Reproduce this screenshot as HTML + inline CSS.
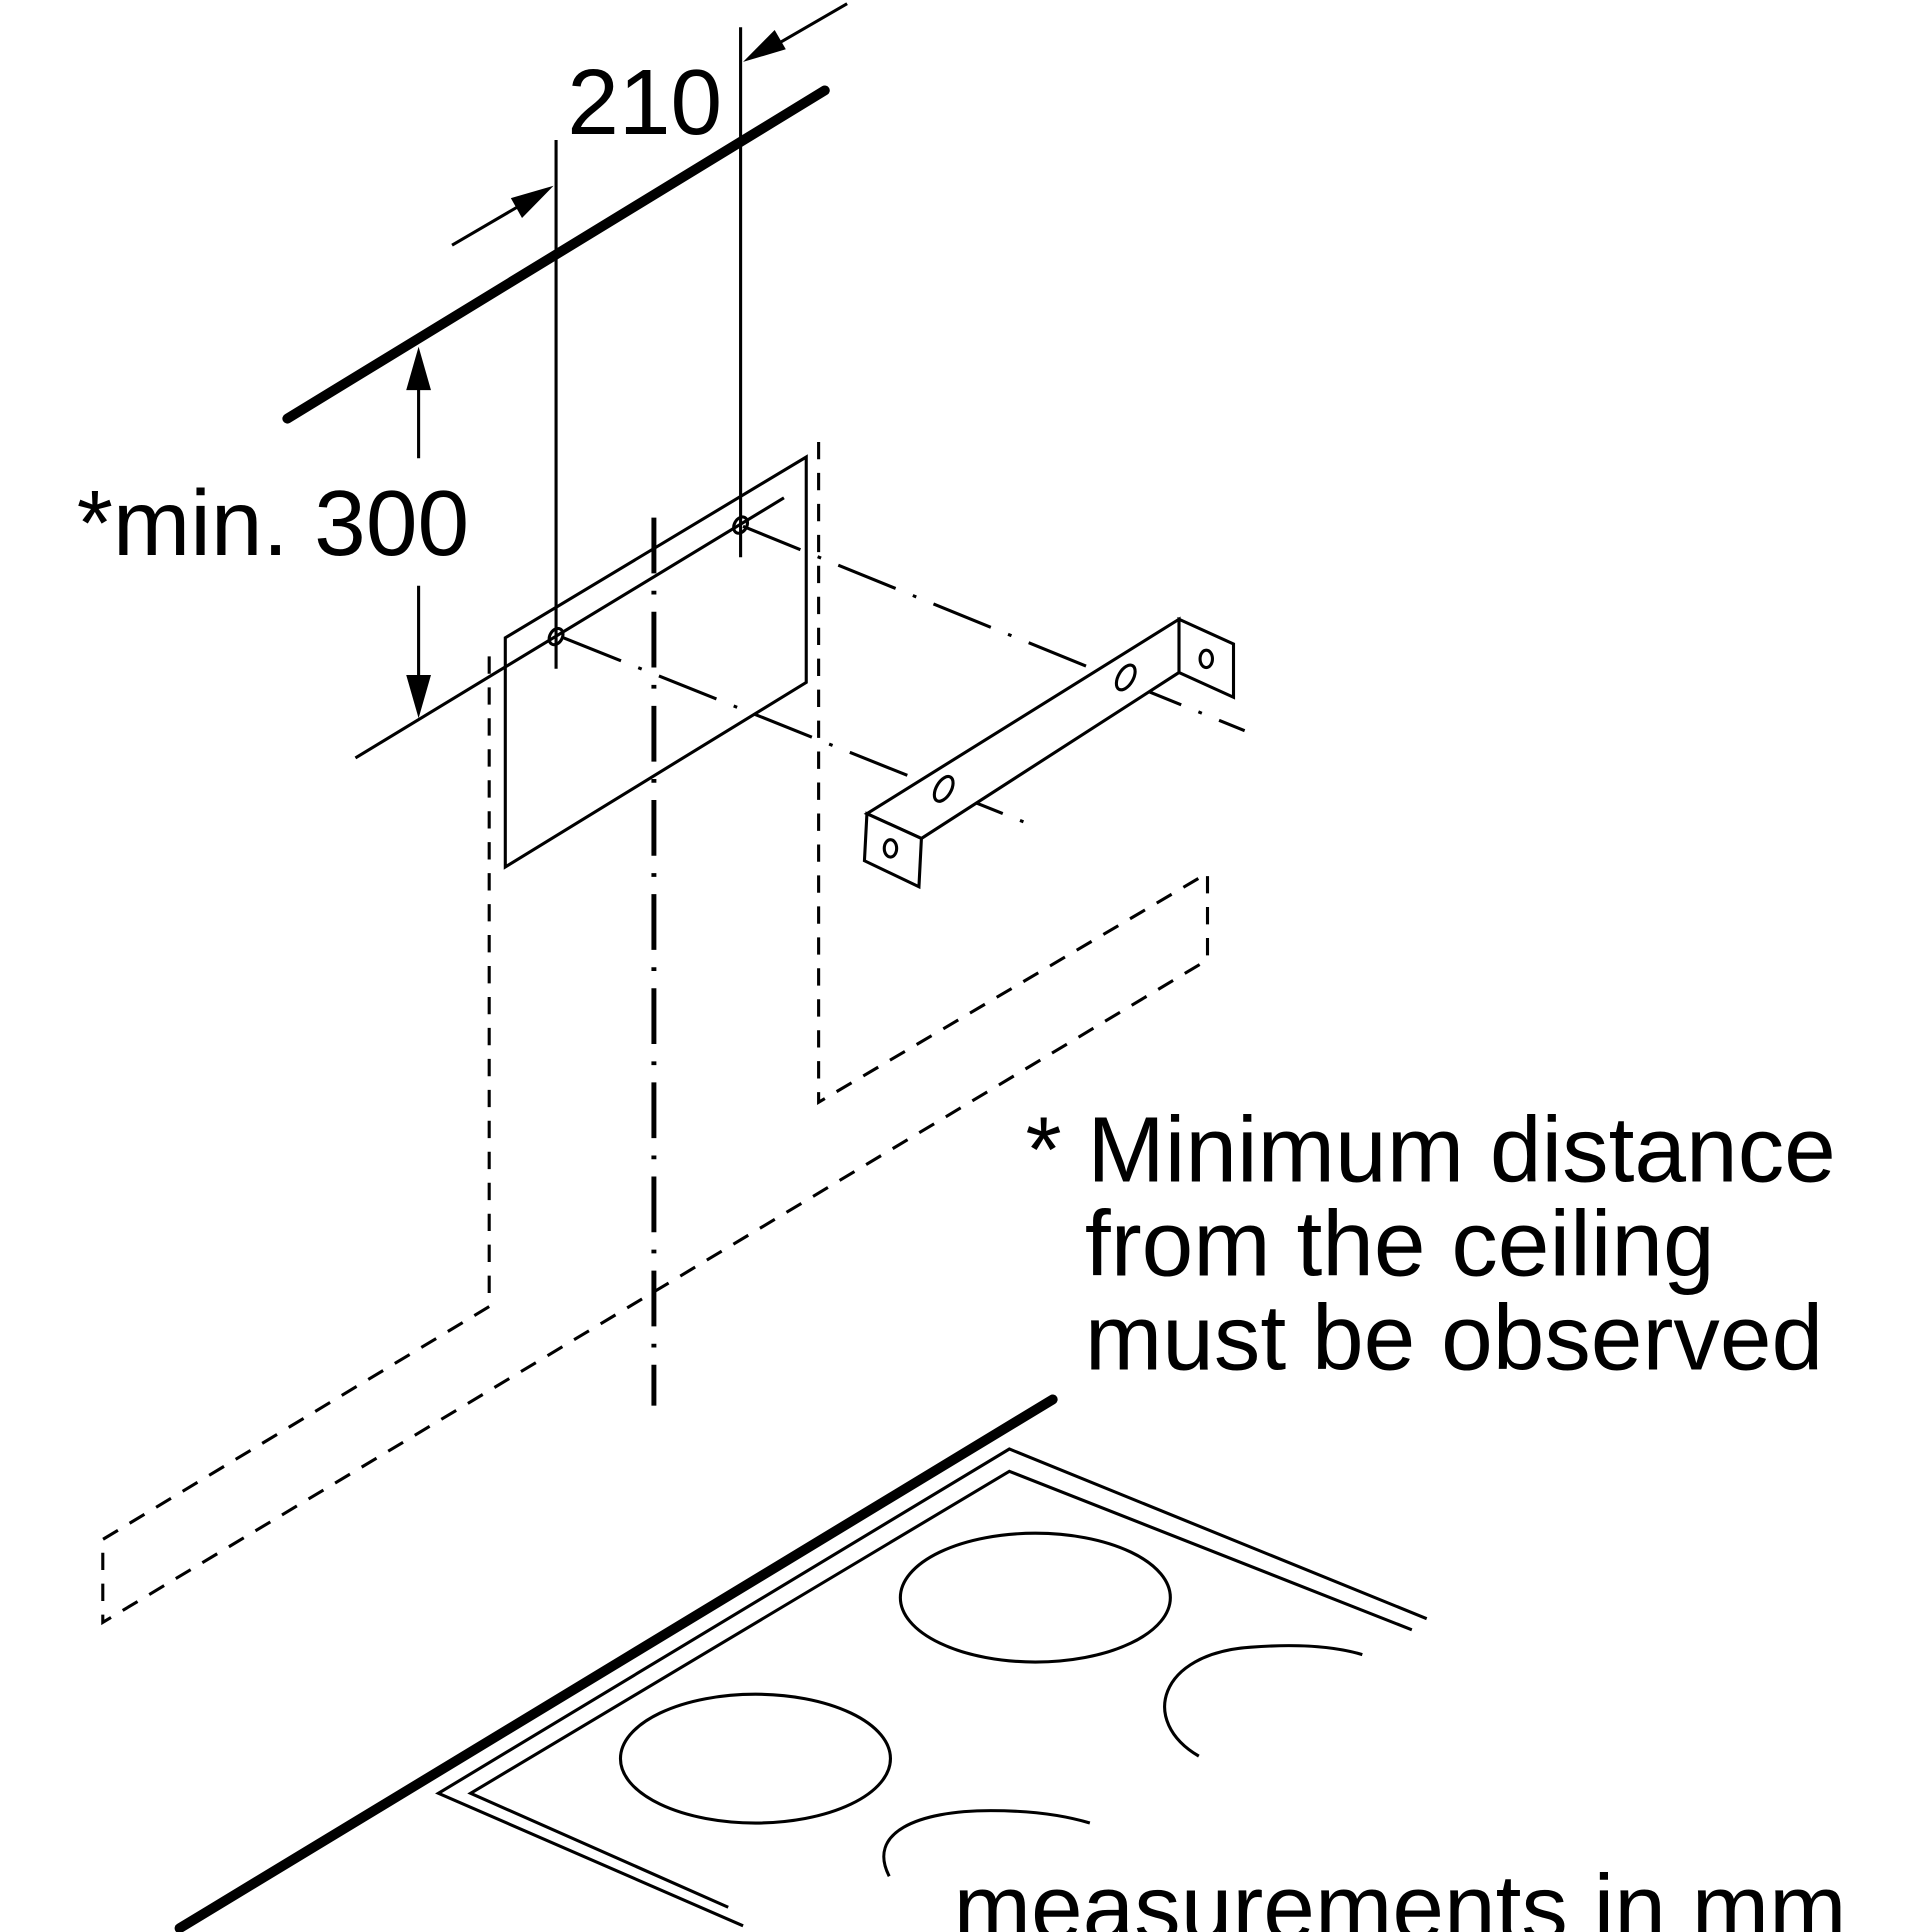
<!DOCTYPE html>
<html><head><style>html,body{margin:0;padding:0;background:#fff}svg{display:block}</style></head><body>
<svg width="1932" height="1932" viewBox="0 0 1560 1560" xmlns="http://www.w3.org/2000/svg" font-family="Liberation Sans, sans-serif">
<g stroke="#000" fill="none" stroke-width="2.5">
<line x1="232" y1="338" x2="666" y2="73" stroke-width="8" stroke-linecap="round"/>
<line x1="449" y1="113" x2="449" y2="540"/>
<line x1="598" y1="22" x2="598" y2="450"/>
<line x1="684" y1="3" x2="620" y2="40"/>
<line x1="365" y1="198" x2="430" y2="160"/>
<line x1="338" y1="295" x2="338" y2="370"/>
<line x1="338" y1="473" x2="338" y2="565"/>
<line x1="287" y1="612" x2="633" y2="402"/>
<polygon points="408,515 651,369 651,551 408,700"/>
<g stroke-dasharray="14,11">
<polyline points="395,530 395,1055 83,1243 83,1310 975,775 975,705 661,890 661,352"/>
</g>
<line x1="528" y1="418" x2="528" y2="1135" stroke-width="4" stroke-dasharray="45,14,3,14"/>
<line x1="455" y1="515" x2="830" y2="665" stroke-dasharray="50,15,3,15"/>
<line x1="600" y1="425" x2="1005" y2="590" stroke-dasharray="50,15,3,15"/>
<polygon points="700,657 952,500 952,543 744,677" fill="#fff"/>
<polygon points="700,657 744,677 742,716 698,695" fill="#fff"/>
<polygon points="952,500 996,520 996,563 952,543" fill="#fff"/>
<ellipse cx="719" cy="685" rx="5" ry="7"/>
<ellipse cx="974" cy="532" rx="5" ry="7"/>
<ellipse cx="762" cy="637" rx="6" ry="11" transform="rotate(30 762 637)"/>
<ellipse cx="909" cy="547" rx="6" ry="11" transform="rotate(30 909 547)"/>
<ellipse cx="449" cy="514" rx="5" ry="7" transform="rotate(30 449 514)"/>
<ellipse cx="598" cy="424" rx="5" ry="7" transform="rotate(30 598 424)"/>
<line x1="145" y1="1557" x2="850" y2="1130" stroke-width="8" stroke-linecap="round"/>
<polyline points="600,1555 354,1448 815,1170 1152,1307"/>
<polyline points="588,1540 380,1448 815,1188 1140,1316"/>
<ellipse cx="836" cy="1290" rx="109" ry="52"/>
<ellipse cx="610" cy="1420" rx="109" ry="52"/>
<path d="M968,1418 C920,1390 935,1335 1010,1330 C1050,1327 1080,1330 1100,1336"/>
<path d="M718,1515 C700,1480 740,1462 800,1462 C835,1462 860,1466 880,1472"/>
</g>
<g fill="#000">
<polygon points="600,50 625.5,24.2 634.5,39.8"/>
<polygon points="447,150 412.5,160 421.5,176"/>
<polygon points="338,280 328,315 348,315"/>
<polygon points="338,580 328,545 348,545"/>
</g>
<g font-size="75" fill="#000">
<text x="458" y="108">210</text>
<text x="62" y="448">*min. 300</text>
<text x="828" y="954">* Minimum distance</text>
<text x="876" y="1030">from the ceiling</text>
<text x="876" y="1106">must be observed</text>
<text x="770" y="1566">measurements in mm</text>
</g>
</svg>
</body></html>
